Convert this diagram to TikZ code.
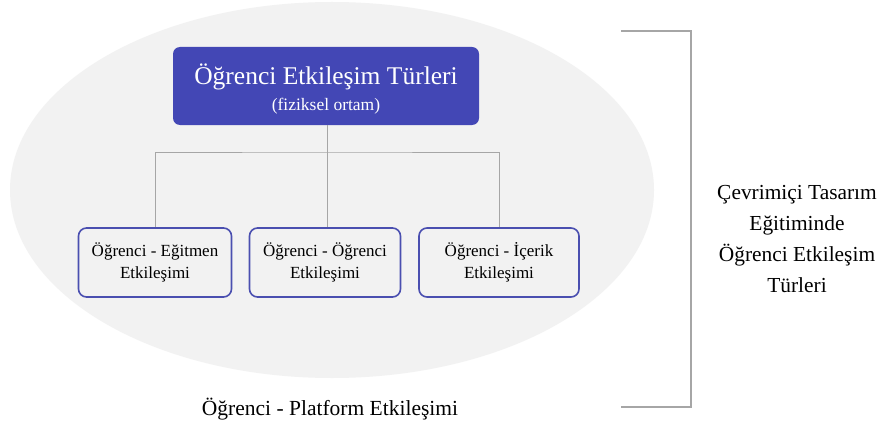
\documentclass[tikz,border=0pt]{standalone}
\usepackage{fontspec}
\setmainfont{Liberation Serif}
\definecolor{topblue}{HTML}{4347B5}
\definecolor{boxedge}{HTML}{4A4FB0}
\definecolor{ellfill}{HTML}{F2F2F2}
\definecolor{linegray}{HTML}{A6A6A6}
\begin{document}
\begin{tikzpicture}[x=1pt,y=-1pt,
  topbox/.style={fill=topblue,rounded corners=7pt,minimum width=306pt,minimum height=78pt,inner sep=0pt,text=white,align=center},
  subbox/.style={draw=boxedge,line width=1.6pt,fill=ellfill,rounded corners=8pt,minimum height=69pt,inner sep=0pt,align=center,font=\fontsize{17}{22}\selectfont},
  conn/.style={draw=linegray,line width=1pt},
  bigtext/.style={align=center,font=\fontsize{21.4}{31}\selectfont}]
\useasboundingbox[fill=white] (0,0) rectangle (882,425);
\fill[ellfill] (332,190) ellipse [x radius=322, y radius=188];
\node[topbox] (top) at (326,86) {};
\node[text=white,align=center] (toptext) at (326,89) {{\fontsize{25.5}{30}\selectfont Öğrenci Etkileşim Türleri}\\[7pt]{\fontsize{17.5}{20}\selectfont (fiziksel ortam)}};
\node[subbox,minimum width=153pt] (b1) at (155,262.5) {Öğrenci - Eğitmen\\Etkileşimi};
\node[subbox,minimum width=151pt] (b2) at (325,262.5) {Öğrenci - Öğrenci\\Etkileşimi};
\node[subbox,minimum width=160pt] (b3) at (499,262.5) {Öğrenci - İçerik\\Etkileşimi};
\coordinate (bar) at (327,152);
\draw[conn] (top.south -| bar) -- (b2.north -| bar);
\draw[conn] (b1.north) |- (bar) -| (b3.north);
\node[font=\fontsize{21.5}{24}\selectfont] (plat) at (330,409) {Öğrenci - Platform Etkileşimi};
\coordinate (bt) at (621,31);
\coordinate (bb) at (621,407);
\draw[conn,line width=1.2pt] (bt) -- ++(70,0) |- (bb);
\node[bigtext] (right) at (797,239) {Çevrimiçi Tasarım\\Eğitiminde\\Öğrenci Etkileşim\\Türleri};
\end{tikzpicture}
\end{document}
